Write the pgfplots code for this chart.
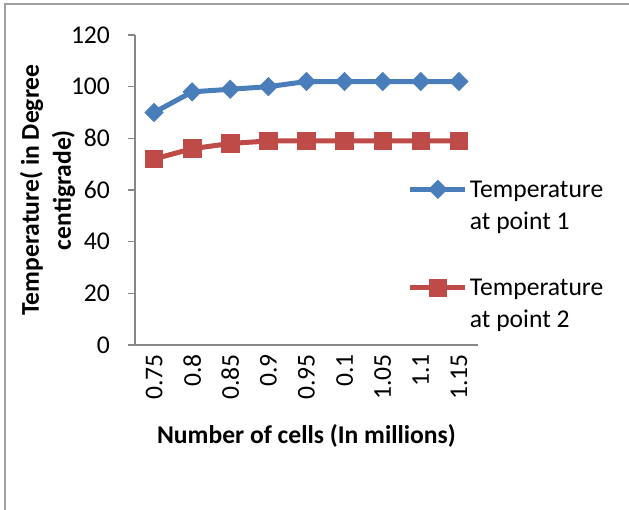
\documentclass[border=0pt]{standalone}
\usepackage{pgfplots}
\pgfplotsset{compat=1.18}
\usepackage{fontspec}
\setmainfont{Carlito}
\definecolor{serA}{HTML}{4A7EBB}
\definecolor{serB}{HTML}{BE4B48}
\definecolor{axgray}{HTML}{868686}
\definecolor{framegray}{HTML}{A0A0A0}
\begin{document}
\begin{tikzpicture}[font=\fontsize{12.8}{16}\selectfont]
\begin{axis}[
  at={(0,0)}, anchor=south west,
  scale only axis,
  width=171.5pt, height=155pt,
  xmin=0.5, xmax=9.5,
  ymin=0, ymax=120,
  axis x line=bottom, axis y line=left,
  axis line style={draw=axgray, line width=0.75pt, -},
  xtick={1,...,9},
  xticklabels={0.75,0.8,0.85,0.9,0.95,0.1,1.05,1.1,1.15},
  ytick={0,20,...,120},
  xtick style={draw=none},
  ytick style={draw=axgray, line width=0.75pt},
  tick align=outside,
  major tick length=3.5pt,
  xticklabel style={rotate=90, anchor=east, inner sep=1pt},
  yticklabel style={/pgf/number format/assume math mode=true, xshift=-5.5pt},
  xlabel={\textbf{Number of cells (In millions)}},
  xlabel style={yshift=-8pt},
  ylabel={\textbf{Temperature( in Degree}\\\textbf{centigrade)}},
  ylabel style={align=center},
  ylabel shift=-9pt,
  legend cell align=left,
  legend style={at={(0.777,0.55)}, anchor=north west, draw=none, fill=none,
    nodes={align=left, inner sep=1pt}, row sep=21.5pt,
    cells={anchor=base west}},
  legend image code/.code={\draw[mark repeat=2,mark phase=2]
    plot coordinates {(0pt,20pt) (13.75pt,20pt) (27.5pt,20pt)};},
]
\addplot[serA, line width=2.5pt, mark=square*, mark size=3.2pt,
  mark options={solid, rotate=45, line width=0.4pt}]
  coordinates {
  (1,90) (2,98) (3,99) (4,100) (5,102) (6,102) (7,102) (8,102) (9,102)
  };
\addlegendentry{Temperature\\at point 1}
\addplot[serB, line width=2.5pt, mark=square*, mark size=4.4pt,
  mark options={solid, line width=0.4pt}]
  coordinates {
  (1,72) (2,76) (3,78) (4,79) (5,79) (6,79) (7,79) (8,79) (9,79)
  };
\addlegendentry{Temperature\\at point 2}
\draw[axgray, line width=0.75pt] (axis cs:5.5,0) -- ++(0,-3.5pt);
\end{axis}
\draw[framegray, line width=0.75pt] (-65pt,-82.5pt) -- (-65pt,170.5pt) -- (247pt,170.5pt);
\pgfresetboundingbox
\path (-67.5pt,-82.5pt) rectangle (247pt,172.5pt);
\end{tikzpicture}
\end{document}
